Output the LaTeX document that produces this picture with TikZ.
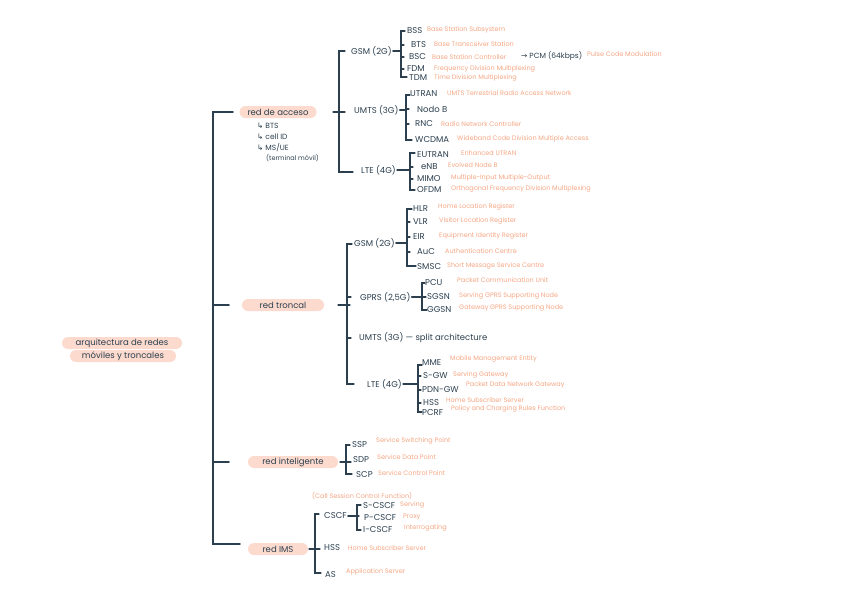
\documentclass[tikz,border=0pt]{standalone}
\usepackage{fontspec}
\setmainfont{Poppins}
\newfontfamily\arrowfont{DejaVu Sans}
\definecolor{ink}{HTML}{2B3F4E}
\definecolor{salmon}{HTML}{F4A683}
\definecolor{pillpink}{HTML}{FCDACE}
\begin{document}
\begin{tikzpicture}
  [x=1pt, y=-1pt,
   pill/.style={fill=pillpink, rounded corners=6pt, minimum height=12pt, inner sep=0pt,
     text=ink, font=\fontsize{8.5}{9}\selectfont},
   term/.style={anchor=west, inner sep=1pt, text=ink, font=\fontsize{8.5}{9}\selectfont},
   expl/.style={anchor=west, inner sep=1pt, text=salmon, font=\fontsize{6.5}{7}\selectfont},
   brk/.style={draw=ink, line width=1.1pt, line cap=round},
   trunk/.style={brk, line width=1.6pt}]
  \useasboundingbox (0,0) rectangle (848,600);

  % root
  \node[pill, minimum width=120pt] (root1) at (122,343) {arquitectura de redes};
  \node[pill, minimum width=106pt] (root2) at (123,356) {móviles y troncales};

  % main branches
  \coordinate (mT) at (213,112);
  \coordinate (mB) at (213,544);
  \node[pill, minimum width=77pt] (acceso) at (278,112) {red de acceso};
  \node[pill, minimum width=82pt] (troncal) at (283,305) {red troncal};
  \node[pill, minimum width=90pt] (intel) at (293,462) {red inteligente};
  \node[pill, minimum width=60pt] (ims) at (278,549) {red IMS};
  \draw[trunk] ([xshift=20pt]mT) -- (mT) -- (mB) -- ([xshift=27pt]mB);
  \foreach \n in {troncal,intel}
    \draw[trunk] (\n.west -| mT) -- ++(16,0);

  %% red de acceso
  \node[term, font=\fontsize{7.5}{8}\selectfont] (btsA) at (256,126) {{\arrowfont ↳} BTS};
  \node[term, font=\fontsize{7.5}{8}\selectfont] (cellid) at (256,137) {{\arrowfont ↳} cell ID};
  \node[term, font=\fontsize{7.5}{8}\selectfont] (msue) at (256,148) {{\arrowfont ↳} MS/UE};
  \node[term, font=\fontsize{6.5}{7}\selectfont] (termmov) at (265,158) {(terminal móvil)};

  \coordinate (aT) at (339,51);
  \coordinate (aB) at (339,172);
  \node[term] (gsmA) at (350,51) {GSM (2G)};
  \node[term] (umtsA) at (353,110) {UMTS (3G)};
  \node[term] (lteA) at (360,170) {LTE (4G)};
  \draw[brk] ([xshift=6pt]aT) -- (aT) -- (aB) -- ([xshift=14pt]aB);
  \draw[brk] (acceso.east -| aT) ++(-6,0) -- ++(12,0);

  % GSM
  \coordinate (gT) at (401,31);
  \coordinate (gB) at (401,77);
  \node[term] (bss) at (406,31) {BSS};
  \node[term] (bts) at (410,45) {BTS};
  \node[term] (bsc) at (408,57) {BSC};
  \node[term] (fdm) at (406,69) {FDM};
  \node[term] (tdm) at (408,78) {TDM};
  \node[expl] (bssD) at (426,30) {Base Station Subsystem};
  \node[expl] (btsD) at (433,44) {Base Transceiver Station};
  \node[expl] (bscD) at (431,57) {Base Station Controller};
  \node[term, font=\fontsize{7.5}{8}\selectfont] (pcm) at (520,56) {{\arrowfont →} PCM (64kbps)};
  \node[expl] (pcmD) at (586,54) {Pulse Code Modulation};
  \node[expl] (fdmD) at (433,69) {Frequency Division Multiplexing};
  \node[expl] (tdmD) at (433,78) {Time Division Multiplexing};
  \draw[brk] ([xshift=4pt]gT) -- (gT) -- (gB) -- ([xshift=6pt]gB);
  \draw[brk] (gsmA.east) -- (gsmA.east -| gT);
  \foreach \n in {bts,bsc,fdm}
    \draw[brk] (\n.west -| gT) -- ++(3,0);

  % UMTS
  \coordinate (uT) at (406,95);
  \coordinate (uB) at (406,140);
  \node[term] (utran) at (409,94) {UTRAN};
  \node[term] (nodob) at (416,109) {Nodo B};
  \node[term] (rnc) at (414,124) {RNC};
  \node[term] (wcdma) at (414,140) {WCDMA};
  \node[expl] (utranD) at (446,93) {UMTS Terrestrial Radio Access Network};
  \node[expl] (rncD) at (440,124) {Radio Network Controller};
  \node[expl] (wcdmaD) at (456,139) {Wideband Code Division Multiple Access};
  \draw[brk] ([xshift=4pt]uT) -- (uT) -- (uB) -- ([xshift=6pt]uB);
  \draw[brk] (umtsA.east) -- (umtsA.east -| uT);
  \foreach \n in {nodob,rnc}
    \draw[brk] (\n.west -| uT) -- ++(3,0);

  % LTE
  \coordinate (lT) at (410,153);
  \coordinate (lB) at (410,190);
  \node[term] (eutran) at (416,155) {EUTRAN};
  \node[term] (enb) at (420,167) {eNB};
  \node[term] (mimo) at (416,179) {MIMO};
  \node[term] (ofdm) at (416,190) {OFDM};
  \node[expl] (eutranD) at (460,153) {Enhanced UTRAN};
  \node[expl] (enbD) at (447,165) {Evolved Node B};
  \node[expl] (mimoD) at (450,178) {Multiple-Input Multiple-Output};
  \node[expl] (ofdmD) at (450,189) {Orthogonal Frequency Division Multiplexing};
  \draw[brk] ([xshift=5pt]lT) -- (lT) -- (lB) -- ([xshift=5pt]lB);
  \draw[brk] (lteA.east) -- (lteA.east -| lT);
  \foreach \n in {enb,mimo}
    \draw[brk] (\n.west -| lT) -- ++(3,0);

  %% red troncal
  \coordinate (cT) at (347,244);
  \coordinate (cB) at (347,384);
  \node[term] (gsmC) at (353,243) {GSM (2G)};
  \node[term] (gprs) at (359,297) {GPRS (2,5G)};
  \node[term] (umtsC) at (358,338) {UMTS (3G) — split architecture};
  \node[term] (lteC) at (366,384) {LTE (4G)};
  \draw[brk] ([xshift=5pt]cT) -- (cT) -- (cB) -- ([xshift=7pt]cB);
  \draw[brk] (troncal.east -| cT) ++(-9,0) -- ++(12,0);
  \foreach \n in {gprs,umtsC}
    \draw[brk] (\n.west -| cT) -- ++(4,0);

  % GSM
  \coordinate (hT) at (407,209);
  \coordinate (hB) at (407,266);
  \node[term] (hlr) at (412,209) {HLR};
  \node[term] (vlr) at (412,222) {VLR};
  \node[term] (eir) at (412,237) {EIR};
  \node[term] (auc) at (416,252) {AuC};
  \node[term] (smsc) at (416,267) {SMSC};
  \node[expl] (hlrD) at (437,207) {Home Location Register};
  \node[expl] (vlrD) at (438,221) {Visitor Location Register};
  \node[expl] (eirD) at (438,236) {Equipment Identity Register};
  \node[expl] (aucD) at (444,251) {Authentication Centre};
  \node[expl] (smscD) at (446,266) {Short Message Service Centre};
  \draw[brk] ([xshift=5pt]hT) -- (hT) -- (hB) -- ([xshift=9pt]hB);
  \draw[brk] (gsmC.east) -- (gsmC.east -| hT);
  \foreach \n in {vlr,eir,auc}
    \draw[brk] (\n.west -| hT) -- ++(3,0);

  % GPRS
  \coordinate (pT) at (422,283);
  \coordinate (pB) at (422,310);
  \node[term] (pcu) at (424,283) {PCU};
  \node[term] (sgsn) at (426,297) {SGSN};
  \node[term] (ggsn) at (426,310) {GGSN};
  \node[expl] (pcuD) at (456,280) {Packet Communication Unit};
  \node[expl] (sgsnD) at (458,296) {Serving GPRS Supporting Node};
  \node[expl] (ggsnD) at (458,308) {Gateway GPRS Supporting Node};
  \draw[brk] ([xshift=3pt]pT) -- (pT) -- (pB) -- ([xshift=5pt]pB);
  \draw[brk] (gprs.east) -- (sgsn.west);

  % LTE
  \coordinate (eT) at (418,365);
  \coordinate (eB) at (418,412);
  \node[term] (mme) at (421,363) {MME};
  \node[term] (sgw) at (422,376) {S-GW};
  \node[term] (pdngw) at (421,390) {PDN-GW};
  \node[term] (hss) at (422,403) {HSS};
  \node[term] (pcrf) at (421,413) {PCRF};
  \node[expl] (mmeD) at (449,359) {Mobile Management Entity};
  \node[expl] (sgwD) at (452,375) {Serving Gateway};
  \node[expl] (pdngwD) at (465,385) {Packet Data Network Gateway};
  \node[expl] (hssD) at (445,400) {Home Subscriber Server};
  \node[expl] (pcrfD) at (450,409) {Policy and Charging Rules Function};
  \draw[brk] ([xshift=4pt]eT) -- (eT) -- (eB) -- ([xshift=4pt]eB);
  \draw[brk] (lteC.east) -- (lteC.east -| eT);
  \foreach \n in {sgw,pdngw,hss}
    \draw[brk] (\n.west -| eT) -- ++(3,0);

  %% red inteligente
  \coordinate (iT) at (346,445);
  \coordinate (iB) at (346,474);
  \node[term] (ssp) at (351,445) {SSP};
  \node[term] (sdp) at (352,460) {SDP};
  \node[term] (scp) at (355,475) {SCP};
  \node[expl] (sspD) at (375,441) {Service Switching Point};
  \node[expl] (sdpD) at (376,457) {Service Data Point};
  \node[expl] (scpD) at (377,473) {Service Control Point};
  \draw[brk] ([xshift=4pt]iT) -- (iT) -- (iB) -- ([xshift=6pt]iB);
  \draw[brk] (intel.east -| iT) ++(-6,0) -- ++(11,0);

  %% red IMS
  \coordinate (sT) at (315,514);
  \coordinate (sB) at (315,573);
  \node[term] (cscf) at (323,516) {CSCF};
  \node[term] (hssI) at (323,548) {HSS};
  \node[term] (as) at (324,575) {AS};
  \node[expl] (cscfD) at (311,496) {(Call Session Control Function)};
  \node[expl] (hssID) at (347,548) {Home Subscriber Server};
  \node[expl] (asD) at (345,572) {Application Server};
  \draw[brk] ([xshift=4pt]sT) -- (sT) -- (sB) -- ([xshift=6pt]sB);
  \draw[brk] (ims.east -| sT) ++(-6,0) -- ++(11,0);

  % CSCF
  \coordinate (xT) at (357,505);
  \coordinate (xB) at (357,530);
  \node[term] (scscf) at (362,506) {S-CSCF};
  \node[term] (pcscf) at (363,518) {P-CSCF};
  \node[term] (icscf) at (362,530) {I-CSCF};
  \node[expl] (scscfD) at (399,505) {Serving};
  \node[expl] (pcscfD) at (402,517) {Proxy};
  \node[expl] (icscfD) at (403,528) {Interrogating};
  \draw[brk] ([xshift=4pt]xT) -- (xT) -- (xB) -- ([xshift=4pt]xB);
  \draw[brk] (cscf.east) -- (cscf.east -| xT) -- ++(2,0);

\end{tikzpicture}
\end{document}
